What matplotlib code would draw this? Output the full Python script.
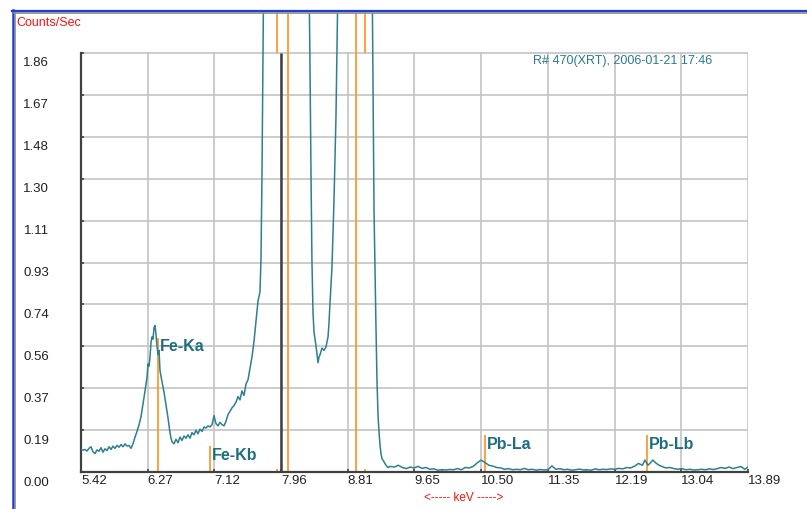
import matplotlib
matplotlib.use("Agg")
from matplotlib import pyplot as plt
from matplotlib.lines import Line2D
import matplotlib.transforms as mtransforms

plt.rcParams['font.family'] = ['Liberation Sans', 'DejaVu Sans']

# spectrum: energy (keV) and counts/sec
energy_low = [5.420, 5.445, 5.471, 5.496, 5.522, 5.547, 5.572, 5.598, 5.623, 5.649,
              5.674, 5.699, 5.725, 5.750, 5.776, 5.801, 5.826, 5.852, 5.877, 5.903,
              5.928, 5.953, 5.979, 6.004, 6.030, 6.055, 6.080, 6.106, 6.131, 6.157,
              6.182, 6.207, 6.233, 6.258, 6.271, 6.284, 6.296, 6.309, 6.322, 6.334,
              6.347, 6.360, 6.372, 6.385, 6.398, 6.411, 6.423, 6.449, 6.474, 6.499,
              6.525, 6.550, 6.563, 6.576, 6.601, 6.626, 6.652, 6.677, 6.703, 6.728,
              6.753, 6.779, 6.804, 6.830, 6.855, 6.880, 6.906, 6.931, 6.957, 6.982,
              7.007, 7.033, 7.058, 7.084, 7.109, 7.134, 7.160, 7.185, 7.211, 7.236,
              7.261, 7.287, 7.312, 7.338, 7.363, 7.388, 7.414, 7.439, 7.464, 7.490,
              7.515, 7.541, 7.566, 7.591, 7.617, 7.642, 7.668, 7.693, 7.706, 7.718,
              7.731, 7.744, 7.769, 7.820, 8.011, 8.201, 8.277, 8.303, 8.328, 8.341,
              8.353, 8.366, 8.379, 8.404, 8.430, 8.442, 8.455, 8.480, 8.506, 8.531,
              8.557, 8.569, 8.582, 8.607, 8.633, 8.658, 8.671, 8.684, 8.709, 8.899,
              9.090, 9.115, 9.128, 9.141, 9.153, 9.166, 9.179, 9.192, 9.204, 9.217,
              9.230, 9.242, 9.268, 9.293, 9.318, 9.344]
counts_low = [0.100, 0.097, 0.100, 0.093, 0.105, 0.112, 0.090, 0.082, 0.098, 0.092,
              0.108, 0.088, 0.103, 0.095, 0.112, 0.100, 0.115, 0.105, 0.118, 0.110,
              0.122, 0.112, 0.125, 0.115, 0.118, 0.105, 0.125, 0.155, 0.180, 0.210,
              0.245, 0.300, 0.360, 0.420, 0.480, 0.470, 0.510, 0.575, 0.600, 0.590,
              0.640, 0.650, 0.610, 0.560, 0.520, 0.540, 0.450, 0.400, 0.355, 0.300,
              0.240, 0.175, 0.150, 0.135, 0.125, 0.145, 0.130, 0.155, 0.140, 0.160,
              0.150, 0.165, 0.150, 0.175, 0.165, 0.185, 0.170, 0.190, 0.180, 0.200,
              0.195, 0.205, 0.200, 0.210, 0.250, 0.215, 0.205, 0.220, 0.210, 0.205,
              0.225, 0.255, 0.270, 0.285, 0.295, 0.310, 0.335, 0.320, 0.360, 0.340,
              0.390, 0.410, 0.460, 0.510, 0.580, 0.670, 0.760, 0.800, 0.950, 1.310,
              1.830, 2.400, 3.200, 5.000, 9.000, 6.000, 4.000, 2.600, 1.800, 1.310,
              0.930, 0.710, 0.620, 0.560, 0.485, 0.510, 0.520, 0.550, 0.540, 0.555,
              0.600, 0.660, 0.750, 0.910, 1.210, 1.580, 1.880, 2.200, 3.500, 8.000,
              4.000, 2.300, 1.700, 1.160, 0.900, 0.640, 0.400, 0.250, 0.180, 0.120,
              0.080, 0.060, 0.045, 0.030, 0.020, 0.025]
energy_tail = [9.40, 9.45, 9.50, 9.55, 9.60, 9.65, 9.70, 9.75, 9.80, 9.85,
               9.90, 9.95, 10.00, 10.05, 10.10, 10.15, 10.20, 10.25, 10.30, 10.35,
               10.40, 10.45, 10.50, 10.55, 10.60, 10.65, 10.70, 10.75, 10.80, 10.85,
               10.90, 10.95, 11.00, 11.05, 11.10, 11.15, 11.20, 11.25, 11.30, 11.35,
               11.40, 11.45, 11.50, 11.55, 11.60, 11.65, 11.70, 11.75, 11.80, 11.85,
               11.90, 11.95, 12.00, 12.05, 12.10, 12.15, 12.20, 12.25, 12.30, 12.35,
               12.40, 12.45, 12.50, 12.55, 12.58, 12.62, 12.65, 12.68, 12.72, 12.76,
               12.80, 12.85, 12.90, 12.95, 13.00, 13.05, 13.10, 13.15, 13.20, 13.25,
               13.30, 13.35, 13.40, 13.45, 13.50, 13.55, 13.60, 13.65, 13.70, 13.75,
               13.80, 13.85, 13.89]
counts_tail = [0.022, 0.030, 0.020, 0.015, 0.022, 0.018, 0.025, 0.016, 0.020, 0.012,
               0.014, 0.008, 0.010, 0.009, 0.011, 0.010, 0.015, 0.010, 0.020, 0.018,
               0.025, 0.040, 0.053, 0.042, 0.030, 0.026, 0.020, 0.018, 0.012, 0.015,
               0.010, 0.012, 0.010, 0.016, 0.010, 0.012, 0.008, 0.011, 0.009, 0.010,
               0.027, 0.012, 0.015, 0.010, 0.012, 0.008, 0.010, 0.013, 0.009, 0.010,
               0.008, 0.014, 0.010, 0.012, 0.011, 0.014, 0.012, 0.016, 0.014, 0.020,
               0.018, 0.026, 0.038, 0.030, 0.053, 0.030, 0.040, 0.053, 0.040, 0.030,
               0.024, 0.018, 0.020, 0.015, 0.012, 0.015, 0.010, 0.012, 0.009, 0.010,
               0.012, 0.010, 0.014, 0.011, 0.015, 0.020, 0.016, 0.022, 0.015, 0.020,
               0.024, 0.012, 0.022]

# element marker lines (keV, top of the orange line)
peak_names = ["Fe-Ka", "Fe-Kb", "Pb-La", "Pb-Lb"]
peak_kev = [6.40, 7.06, 10.55, 12.61]
peak_top = [0.595, 0.115, 0.164, 0.164]
label_y = [0.555, 0.075, 0.12, 0.12]
full_lines = [8.045, 8.912]
clipped_lines = [7.909, 9.027]
small_marks = [7.909, 9.027, 10.00, 11.83]
cursor_kev = 7.961

xticks = [5.42, 6.267, 7.114, 7.961, 8.808, 9.655, 10.502, 11.349, 12.196, 13.043, 13.89]
xlabels = ["5.42", "6.27", "7.12", "7.96", "8.81", "9.65", "10.50", "11.35", "12.19", "13.04", "13.89"]
yticks = [0, 0.186, 0.372, 0.558, 0.744, 0.93, 1.116, 1.302, 1.488, 1.674, 1.86]
ylabels = ["0.00", "0.19", "0.37", "0.56", "0.74", "0.93", "1.11", "1.30", "1.48", "1.67", "1.86"]

W, H = 807, 509
fig = plt.figure(figsize=(W / 100, H / 100), dpi=100)
fig.patch.set_facecolor('white')
ax = fig.add_axes([81 / W, 37 / H, 667 / W, 459 / H])
ax.set_facecolor('none')
ymax = 1.86 * 459 / 419
ax.set_xlim(5.42, 13.89)
ax.set_ylim(0, ymax)

grid_c = '#c4c4c4'
for y in yticks[1:]:
    ax.plot([5.42, 13.89], [y, y], color=grid_c, lw=1.2, zorder=1)
for x in xticks[1:]:
    ax.plot([x, x], [0, 1.86], color=grid_c, lw=1.2, zorder=1)

orange = '#ff9a2e'
ax.vlines(full_lines, 0, ymax, color=orange, lw=1.3, zorder=2)
ax.vlines(clipped_lines, 1.86, ymax, color=orange, lw=1.3, zorder=2)
ax.vlines(small_marks, 0, 0.012, color=orange, lw=1.3, zorder=2)
ax.vlines(peak_kev, 0, peak_top, color=orange, lw=1.3, zorder=2)
ax.vlines([cursor_kev], 0, 1.86, color='#404040', lw=1.8, zorder=2)

ax.plot(energy_low + energy_tail, counts_low + counts_tail, color='#2e7f90', lw=1.1, zorder=3)

for name, x, y in zip(peak_names, peak_kev, label_y):
    ax.text(x + 0.02, y, name, color='#1d6e80', fontsize=11.5, fontweight='bold',
            va='center', ha='left', zorder=4)

for s in ['top', 'right']:
    ax.spines[s].set_visible(False)
ax.spines['left'].set_bounds(0, 1.86)
ax.spines['left'].set_color('#404040')
ax.spines['bottom'].set_color('#404040')
ax.spines['left'].set_linewidth(1.6)
ax.spines['bottom'].set_linewidth(1.6)

ax.set_xticks(xticks)
ax.set_xticklabels(xlabels, ha='left')
ax.set_yticks(yticks)
ax.set_yticklabels(ylabels)
ax.tick_params(axis='both', direction='in', length=2.5, width=1.2, color='#404040',
               labelsize=9.5, labelcolor='#202020')
ax.tick_params(axis='y', pad=23)
ax.tick_params(axis='x', pad=2.5)
off = mtransforms.ScaledTranslation(0, -9 / 100, fig.dpi_scale_trans)
for lab in ax.get_yticklabels():
    lab.set_transform(lab.get_transform() + off)

# window frame
fig.add_artist(Line2D([12 / W, 1], [1 - 11 / H, 1 - 11 / H], color='#1a3fd6', lw=1.6))
fig.add_artist(Line2D([12.5 / W, 12.5 / W], [0, 1 - 10 / H], color='#1a3fd6', lw=1.8))
fig.add_artist(Line2D([14 / W, 1], [1 - 13 / H, 1 - 13 / H], color='#8a8a8a', lw=1.2))
fig.add_artist(Line2D([14.8 / W, 14.8 / W], [0, 1 - 13 / H], color='#8a8a8a', lw=1.2))

fig.text(16 / W, 1 - 23 / H, "Counts/Sec", color='#ff1010', fontsize=9, va='center', ha='left')
fig.text(464 / W, 1 - 498 / H, "<----- keV ----->", color='#ff1010', fontsize=8.5, va='center', ha='center')
fig.text(623 / W, 1 - 61 / H, "R# 470(XRT), 2006-01-21 17:46", color='#2a7a8c', fontsize=9,
         va='center', ha='center')

plt.savefig('out.png', dpi=100)
